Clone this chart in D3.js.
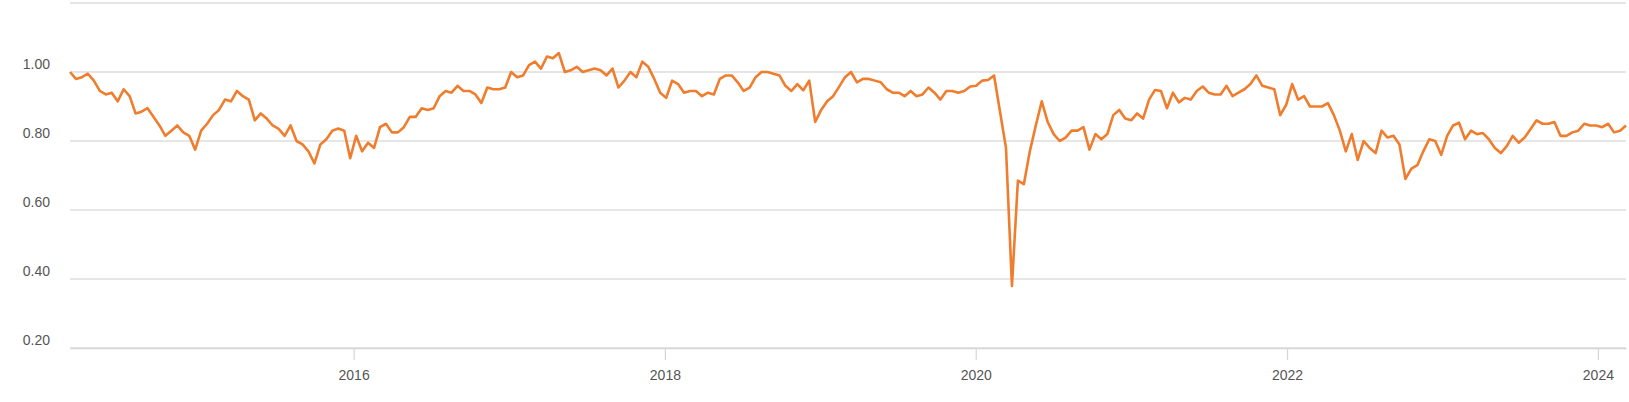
<!DOCTYPE html>
<html lang="en">
<head>
<meta charset="UTF-8">
<title>Ratio, 2014 - 2024</title>
<script src="https://d3js.org/d3.v7.min.js"></script>
<style>
body {
  margin: 0;
  background: white;
  font-family: "Liberation Sans", Arial, Helvetica, sans-serif;
}
.grid line {
  stroke: #dedede;
  stroke-width: 1.5px;
}
.tick text {
  fill: #555;
  font-size: 14px;
}
</style>
</head>
<body>
<div id="chart"></div>

<script>
// first point and spacing of the series (one value every 14 days)
var startDate = "2014-03-06";
var stepDays = 14;

// values, one per step
var values = [
  1.00, 0.98, 0.985, 0.995, 0.975, 0.945, 0.935, 0.94, 0.915, 0.95,
  0.93, 0.88, 0.885, 0.895, 0.87, 0.845, 0.815, 0.83, 0.845, 0.825,
  0.815, 0.775, 0.83, 0.85, 0.875, 0.89, 0.92, 0.915, 0.945, 0.93,
  0.92, 0.86, 0.88, 0.865, 0.845, 0.835, 0.815, 0.845, 0.80, 0.79,
  0.77, 0.735, 0.79, 0.805, 0.83, 0.836, 0.83, 0.75, 0.815, 0.77,
  0.795, 0.78, 0.84, 0.85, 0.825, 0.825, 0.84, 0.87, 0.87, 0.895,
  0.89, 0.895, 0.93, 0.945, 0.94, 0.96, 0.945, 0.945, 0.935, 0.91,
  0.955, 0.95, 0.95, 0.955, 1.00, 0.985, 0.99, 1.02, 1.03, 1.01,
  1.045, 1.04, 1.055, 1.00, 1.005, 1.015, 1.00, 1.005, 1.01, 1.005,
  0.99, 1.01, 0.955, 0.975, 1.00, 0.985, 1.03, 1.015, 0.98, 0.94,
  0.925, 0.975, 0.965, 0.94, 0.945, 0.945, 0.93, 0.94, 0.935, 0.98,
  0.99, 0.99, 0.97, 0.945, 0.955, 0.985, 1.00, 1.00, 0.995, 0.99,
  0.96, 0.945, 0.965, 0.947, 0.975, 0.855, 0.89, 0.915, 0.93, 0.957,
  0.985, 1.00, 0.97, 0.98, 0.98, 0.975, 0.97, 0.95, 0.94, 0.94,
  0.93, 0.945, 0.93, 0.935, 0.955, 0.94, 0.92, 0.945, 0.945, 0.94,
  0.945, 0.958, 0.96, 0.975, 0.977, 0.99, 0.885, 0.78, 0.38, 0.685,
  0.675, 0.77, 0.845, 0.915, 0.855, 0.82, 0.80, 0.81, 0.83, 0.83,
  0.84, 0.775, 0.82, 0.805, 0.82, 0.875, 0.89, 0.865, 0.86, 0.88,
  0.865, 0.92, 0.948, 0.945, 0.895, 0.94, 0.912, 0.925, 0.92, 0.945,
  0.958, 0.94, 0.935, 0.935, 0.96, 0.93, 0.94, 0.95, 0.965, 0.99,
  0.96, 0.955, 0.95, 0.875, 0.905, 0.965, 0.92, 0.93, 0.90, 0.90,
  0.90, 0.91, 0.875, 0.83, 0.77, 0.82, 0.745, 0.80, 0.78, 0.765,
  0.83, 0.81, 0.815, 0.79, 0.69, 0.72, 0.73, 0.77, 0.805, 0.80,
  0.76, 0.815, 0.845, 0.853, 0.805, 0.83, 0.82, 0.823, 0.805, 0.78,
  0.765, 0.785, 0.815, 0.795, 0.81, 0.835, 0.86, 0.85, 0.85, 0.855,
  0.815, 0.815, 0.825, 0.83, 0.85, 0.845, 0.845, 0.84, 0.85, 0.825,
  0.83, 0.845
];

// grid lines and the labelled subset of them
var gridValues = [0.20, 0.40, 0.60, 0.80, 1.00, 1.20];
var yLabels = [0.20, 0.40, 0.60, 0.80, 1.00];
var xTickYears = [2016, 2018, 2020, 2022, 2024];

var parseDate = d3.timeParse("%Y-%m-%d");
var t0 = parseDate(startDate);
var data = values.map(function(v, i) {
  return { date: d3.timeDay.offset(t0, i * stepDays), value: v };
});

// set the dimensions and margins of the graph
var fullWidth = 1629, fullHeight = 402;
var margin = {top: 3, right: 3, bottom: 54, left: 70},
    width = fullWidth - margin.left - margin.right,
    height = fullHeight - margin.top - margin.bottom;

var svg = d3.select("#chart")
  .append("svg")
    .attr("width", fullWidth)
    .attr("height", fullHeight)
  .append("g")
    .attr("transform", "translate(" + margin.left + "," + margin.top + ")");

var x = d3.scaleTime()
  .domain([data[0].date, data[data.length - 1].date])
  .range([0, width]);

var y = d3.scaleLinear()
  .domain([0.2, 1.2])
  .range([height, 0]);

// horizontal grid lines
svg.append("g")
  .attr("class", "grid")
  .selectAll("line")
  .data(gridValues)
  .enter()
  .append("line")
    .attr("x1", 0)
    .attr("x2", width)
    .attr("y1", function(d) { return y(d); })
    .attr("y2", function(d) { return y(d); });

// y labels sit just above their grid line
var yAxis = svg.append("g")
  .call(d3.axisLeft(y)
    .tickValues(yLabels)
    .tickSize(0)
    .tickPadding(20)
    .tickFormat(d3.format(".2f")));
yAxis.select(".domain").remove();
yAxis.selectAll(".tick text")
  .attr("dy", "-4px")
  .style("font-family", "'Liberation Sans', Arial, sans-serif");

// x axis
var xAxis = svg.append("g")
  .attr("transform", "translate(0," + height + ")")
  .call(d3.axisBottom(x)
    .tickValues(xTickYears.map(function(yr) { return new Date(yr, 0, 1); }))
    .tickSize(12)
    .tickSizeOuter(0)
    .tickPadding(10)
    .tickFormat(d3.timeFormat("%Y")));
xAxis.select(".domain")
  .attr("stroke", "#d6d6d6")
  .attr("stroke-width", 1.5);
xAxis.selectAll(".tick line")
  .attr("stroke", "#d6d6d6")
  .attr("stroke-width", 1.2);
xAxis.selectAll(".tick text")
  .style("font-family", "'Liberation Sans', Arial, sans-serif");

// the series
var line = d3.line()
  .x(function(d) { return x(d.date); })
  .y(function(d) { return y(d.value); });

svg.append("path")
  .datum(data)
  .attr("fill", "none")
  .attr("stroke", "#f07d2e")
  .attr("stroke-width", 2.6)
  .attr("stroke-linejoin", "round")
  .attr("d", line);
</script>
</body>
</html>
